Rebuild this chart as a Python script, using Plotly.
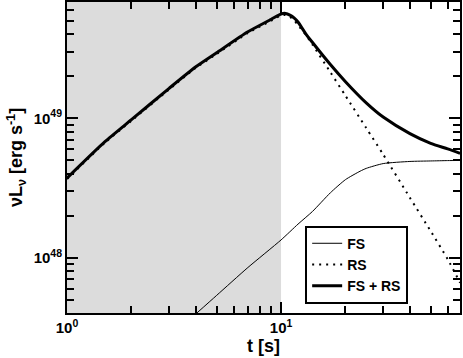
import plotly.graph_objects as go

# time grid [s] and luminosities [erg/s]
t = [1, 1.5, 2, 3, 4, 5, 7, 9, 10, 10.5, 11, 11.5, 12, 13, 14, 17, 20, 25, 30, 40, 50, 60, 68.6]
total = [3.72e48, 6.76e48, 9.77e48, 1.64e49, 2.34e49, 2.95e49, 4.17e49, 5.13e49, 5.60e49, 5.65e49,
         5.50e49, 5.25e49, 4.90e49, 4.07e49, 3.51e49, 2.43e49, 1.83e49, 1.29e49, 1.02e49,
         7.76e48, 6.61e48, 6.03e48, 5.61e48]
rs = [3.66e48, 6.65e48, 9.6e48, 1.61e49, 2.30e49, 2.89e49, 4.09e49, 5.01e49, 5.47e49, 5.50e49,
      5.33e49, 5.06e49, 4.65e49, 4.00e49, 3.39e49, 2.14e49, 1.45e49, 8.51e48, 5.50e48,
      2.69e48, 1.55e48, 9.77e47, 6.61e47]
t_fs = [4.0, 5, 7, 10, 12, 14, 17, 20, 23.4, 25, 30, 40, 50, 60, 68.6]
fs = [3.95e47, 5.36e47, 8.5e47, 1.34e48, 1.74e48, 2.14e48, 2.92e48, 3.63e48, 4.17e48, 4.37e48,
      4.73e48, 4.90e48, 4.94e48, 4.97e48, 4.98e48]

fig = go.Figure()

fig.add_trace(go.Scatter(x=t_fs, y=fs, mode='lines', name='FS',
                         line=dict(color='black', width=1, shape='spline', smoothing=0.6)))
fig.add_trace(go.Scatter(x=t, y=rs, mode='lines', name='RS',
                         line=dict(color='black', width=2, dash='2px,5px',
                                   shape='spline', smoothing=0.6)))
fig.add_trace(go.Scatter(x=t, y=total, mode='lines', name='FS + RS',
                         line=dict(color='black', width=3, shape='spline', smoothing=0.6)))

# shaded region up to t = 10 s
fig.add_shape(type='rect', xref='x', yref='paper', x0=1, x1=10, y0=0, y1=1,
              fillcolor='#dcdcdc', line=dict(width=0), layer='below')

minor_x = [2, 3, 4, 5, 6, 7, 8, 9, 20, 30, 40, 50, 60]
minor_y = [5e47, 6e47, 7e47, 8e47, 9e47, 2e48, 3e48, 4e48, 5e48, 6e48, 7e48, 8e48, 9e48,
           2e49, 3e49, 4e49, 5e49, 6e49]

fam = 'Liberation Sans, Arial, sans-serif'
axis_font = dict(family=fam, size=15, color='black')

fig.update_layout(
    width=463, height=358,
    margin=dict(l=67, r=3, t=2, b=45),
    plot_bgcolor='white', paper_bgcolor='white',
    hovermode=False,
    showlegend=True,
    legend=dict(x=0.606, y=0.03, xanchor='left', yanchor='bottom',
                bgcolor='white', bordercolor='black', borderwidth=2,
                font=dict(family=fam, size=14, color='black', weight='bold'),
                tracegroupgap=0, itemwidth=30),
    xaxis=dict(type='log', range=[0, 1.836], automargin=False,
               tickmode='array', tickvals=[1, 10],
               ticktext=['<b>10<sup>0</sup></b>', '<b>10<sup>1</sup></b>'],
               ticks='inside', ticklen=11, tickwidth=1.5, tickcolor='black',
               minor=dict(tickmode='array', tickvals=minor_x, ticks='inside',
                          ticklen=7, tickwidth=1.5, tickcolor='black', showgrid=False),
               showline=True, linecolor='black', linewidth=2, mirror='allticks',
               showgrid=False, zeroline=False, tickfont=axis_font,
               title=dict(text='<b>t [s]</b>', standoff=4,
                          font=dict(family=fam, size=18, color='black'))),
    yaxis=dict(type='log', range=[47.603, 49.834], automargin=False,
               tickmode='array', tickvals=[1e48, 1e49],
               ticktext=['<b>10<sup>48</sup></b>', '<b>10<sup>49</sup></b>'],
               ticks='inside', ticklen=11, tickwidth=1.5, tickcolor='black',
               minor=dict(tickmode='array', tickvals=minor_y, ticks='inside',
                          ticklen=7, tickwidth=1.5, tickcolor='black', showgrid=False),
               showline=True, linecolor='black', linewidth=2, mirror='allticks',
               showgrid=False, zeroline=False, tickfont=axis_font,
               title=dict(text='<b>νL<sub>ν</sub> [erg s<sup>-1</sup>]</b>', standoff=6,
                          font=dict(family=fam, size=18, color='black'))),
)

# drop the default page margin so the figure sits at the window corner
fig.write_html("out.html", config={'displayModeBar': False},
               post_script="document.body.style.margin='0';")
